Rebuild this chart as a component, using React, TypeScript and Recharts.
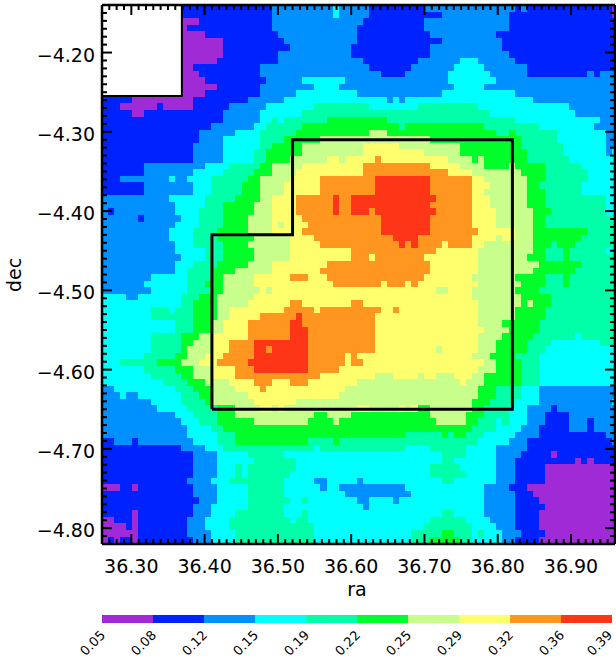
import React from "react";
import { ScatterChart, Scatter, XAxis, YAxis, BarChart, Bar, Label } from "recharts";

// Each row: runs of "<level letter><end column>"; w = no data
const rows: string[] = [
"w13 b28 c38 d39 c44 b53 c68 b69 c70 b84 a85",
"w13 b28 c38 d39 c44 b56 c67 b84 a85",
"w13 a16 b28 c43 b53 c67 b85",
"w13 a14 b28 c42 b53 c67 b85",
"w13 a17 b29 c42 b54 c65 b85",
"w13 a20 b30 c42 b56 c66 b85",
"w13 a20 b31 c41 b54 c66 b85",
"w13 a20 b29 c41 b54 c67 b85",
"w13 a19 b29 c43 b52 c59 d62 c68 b85",
"w13 a15 b26 c44 b51 c58 d63 c70 b85",
"w13 a16 b26 c46 b50 c57 d64 c70 b80 c81 b82 c85",
"w13 a17 b27 c33 d40 c57 d65 c85",
"w13 a19 b26 c35 d39 c58 d63 c85",
"w13 a17 b26 c32 d42 c56 d68 c85",
"b5 a15 b24 c30 d47 c48 d49 c50 d71 c85",
"b3 a9 b10 a15 b21 c27 d35 e44 d52 e62 d77 c85",
"b5 a7 b20 c26 d33 e64 d78 c85",
"b20 c26 d28 e29 d30 e37 f47 e68 d82 c85",
"b18 c25 d27 e33 f49 e50 f63 e72 d81 c85",
"b16 c22 d26 e32 f44 g47 f65 e67 f68 e75 d83 c85",
"b16 c20 d26 e30 f36 g54 f69 e75 d83 c85",
"b15 c20 d26 e28 f33 g43 h49 g59 f69 e76 d83 c85",
"b15 c20 d25 e27 f33 g43 h53 g59 f70 e76 d83 c84 d85",
"b15 c20 d25 e27 f31 g37 h39 g40 h45 i46 h57 g61 f62 g63 f70 e77 d85",
"b7 c17 d21 e26 f28 g33 h43 i54 h59 g63 f67 g68 f73 e79 d85",
"b7 c15 d20 e25 f28 g32 h43 i57 h61 g69 f73 e80 d85",
"b3 c11 d12 c14 d18 e24 f26 g31 h36 i45 j54 i61 h63 g70 f73 e80 d85",
"b7 c15 d18 e23 f26 g30 h36 i45 j54 i61 h64 g70 f72 e79 d85",
"b7 c15 d18 e23 f26 g30 h36 i45 j54 i61 h63 g70 f73 e79 d85",
"c11 d17 e22 f26 g28 h32 i38 j39 i41 j55 i61 h64 g70 f73 e83 d85",
"c12 d17 e20 f25 g28 h32 i38 j39 i41 j54 i61 h64 g70 f73 e83 d85",
"c1 b2 c12 d16 e20 f25 g28 h32 i38 j39 i41 j44 i45 j55 i61 h65 g71 f74 e83 d85",
"c6 b7 c13 d16 e20 f24 g28 h33 i46 j54 i61 h65 g71 f73 e85",
"c12 d16 e20 f24 g28 h29 g30 h34 i46 j54 i61 h65 g71 f73 e85",
"c11 d15 e19 f24 g28 h33 i46 j54 i62 h68 g71 f80 e85",
"c11 d15 e19 f25 g31 h35 i48 j52 i61 h65 g66 h68 g71 f79 e85",
"c12 d15 e20 f24 g31 h36 i49 j50 i51 j52 i56 h57 i61 h63 g71 f74 e75 f78 e85",
"c12 d17 e20 f25 g31 h41 i55 h62 g71 f73 e76 f77 e83 d84 e85",
"c13 d17 e20 f25 g31 h41 i44 h45 i53 h62 g70 f73 e76 f77 e85",
"c12 d15 e19 f24 g28 h37 i54 h62 g72 f79 e85",
"c12 d14 e18 f22 g28 h36 i54 h62 g71 f78 e85",
"c8 d14 e18 f20 g25 h31 i34 h37 i53 h61 g68 f73 e76 f77 e85",
"c7 d14 e17 f20 g25 h38 i46 h47 i50 h51 i52 h62 g69 f73 e76 f77 e85",
"c8 d14 e18 f20 g26 h27 g28 h55 g57 h61 g68 f72 e85",
"d4 c6 d13 e16 f19 g25 h61 g69 f74 e85",
"d13 e15 f19 g24 h31 i33 h41 i43 h62 g69 f70 g71 f74 e85",
"d8 e11 d12 e15 f19 g21 h30 i35 h36 i46 h48 i49 h62 g68 f73 e85",
"d8 e15 f19 g21 h26 i32 j33 i45 h62 g68 f73 e85",
"d12 e15 f18 g20 h24 i31 j33 i45 h62 g66 f72 e85",
"d12 e15 f18 g20 h24 i31 j34 i45 h63 g67 f72 e85",
"d8 e13 f16 g18 h24 i31 j34 i45 h62 g66 f71 e78 d79 e85",
"d8 e13 f15 g18 h21 i25 j34 i45 h62 g65 f70 e74 d82 e85",
"d8 e13 f14 g18 h21 i25 j27 i28 j34 i45 h55 g56 h62 g65 f70 e73 d85",
"d7 e12 f14 g17 h20 i25 j34 i40 h41 i42 h61 g64 f68 e72 d85",
"d3 e9 f13 g16 h19 i24 j34 i40 h41 i43 h63 g65 f69 e72 d85",
"d7 e12 f15 g18 h22 i25 j34 i39 h62 g65 f69 e72 d85",
"d8 e13 f15 g18 h22 i36 h45 g48 h52 g53 h55 g58 h61 g63 f69 e72 d85",
"d10 e14 f17 g21 h25 i28 h31 i34 h42 g59 h60 g63 f69 e72 d85",
"c2 d12 e15 f18 g22 h26 i27 h40 g62 f65 e69 d72 c85",
"c3 d4 c6 d13 e16 f18 g24 h39 g62 f65 e69 d72 c85",
"c8 d13 e17 f18 g25 h32 g61 f64 e68 d72 c84 d85",
"c9 d14 e19 f22 g26 h28 g29 h30 g42 h44 g49 h50 g51 h52 f54 g61 f63 e67 d70 c74 b75 c85",
"c12 d15 e19 f22 g35 f37 g41 f54 g60 f63 e67 d70 c73 b77 c85",
"c13 d16 e19 f25 g34 f38 g39 f55 g60 f62 e65 d66 e67 d70 c73 b77 c80 b81 c85",
"c14 d18 e20 f61 e65 d69 c72 b77 c80 b81 c85",
"c14 d19 e22 f50 e56 f57 e58 f60 e63 d68 c72 b83 c85",
"b2 c5 b6 c15 d19 e22 f34 e38 f39 e62 d67 c70 b84 c85",
"b13 c17 d20 e35 d36 e50 d54 e60 d65 c70 b85",
"b15 c19 d24 e30 d56 e60 d65 c69 b74 a75 b85",
"b15 c19 d25 e32 d56 e58 d65 c68 b78 a79 b80 a81 b85",
"b15 c19 d22 e23 d24 e32 d54 e59 d65 c68 b73 a85",
"b15 c19 d22 e23 d24 e31 d54 e60 d65 c68 b73 a85",
"b14 c18 d21 e30 d35 c37 d42 c43 d56 e58 d65 c68 b73 a85",
"a3 b5 a6 b15 c19 d24 e30 d36 c37 d39 c50 d63 c67 b70 a85",
"b15 c19 d24 e30 d40 c51 d63 c68 b71 a85",
"b16 c19 d24 e31 d33 e34 d42 c44 d48 c49 d63 c68 b72 a85",
"b15 c18 d24 e30 d43 c44 d63 c68 b73 a85",
"b5 a6 b15 c18 d22 e30 d33 e34 d56 e58 d63 c68 b72 a85",
"a2 b5 a6 b14 c17 d21 e31 d32 e34 d54 e60 d64 c68 b72 a85",
"a4 b5 a6 b14 c17 d21 e35 d53 e61 d65 c68 b72 a85",
"a6 b14 c18 d22 e35 d51 e56 f58 e61 d62 e63 d66 c69 b73 a85",
"a1 b2 a3 b5 a6 b15 c18 d22 e35 d51 e54 f59 e61 d66 c68 b72 a85",
];

const levelColors: Record<string, string> = {
  a: "#A02BD6", b: "#0022FF", c: "#0090FF", d: "#00FFFF", e: "#00FFA8",
  f: "#00FF2A", g: "#C8FF8C", h: "#FFFF6E", i: "#FF9620", j: "#FF3518",
};
const levelKeys = ["a", "b", "c", "d", "e", "f", "g", "h", "i", "j"];
const colorbarLabels = ["0.05", "0.08", "0.12", "0.15", "0.19", "0.22", "0.25", "0.29", "0.32", "0.36", "0.39"];

const raMajor = [36.3, 36.4, 36.5, 36.6, 36.7, 36.8, 36.9];
const decMajor = [-4.2, -4.3, -4.4, -4.5, -4.6, -4.7, -4.8];
const raDomain = [36.26, 36.96];
const decDomain = [-4.82, -4.14];
const STEP = 0.00828;

const footprint = [
  { ra: 36.41, dec: -4.65 }, { ra: 36.41, dec: -4.43 }, { ra: 36.52, dec: -4.43 },
  { ra: 36.52, dec: -4.31 }, { ra: 36.82, dec: -4.31 }, { ra: 36.82, dec: -4.65 }, { ra: 36.41, dec: -4.65 },
];
const maskEdge = [{ ra: 36.26, dec: -4.2548 }, { ra: 36.369, dec: -4.2548 }, { ra: 36.369, dec: -4.14 }];

const W = 616, PLOT_L = 102, PLOT_R = 615, PLOT_T = 5, PLOT_B = 544;
const CH = 610;
const FONT = "'DejaVu Sans', sans-serif";
const LABEL_SIZE = 19;
const cellW = (STEP * (PLOT_R - PLOT_L)) / (raDomain[1] - raDomain[0]);
const cellH = (STEP * (PLOT_B - PLOT_T)) / (decDomain[1] - decDomain[0]);

const cells: { ra: number; dec: number; level: string }[] = [];
rows.forEach((row, r) => {
  let col = 0;
  row.split(" ").forEach((run) => {
    const level = run[0];
    const end = parseInt(run.slice(1), 10);
    for (; col < end; col++) {
      if (level !== "w") {
        cells.push({ ra: raDomain[0] + (col + 0.5) * STEP, dec: decDomain[1] - (r + 0.5) * STEP, level });
      }
    }
  });
});

const hundredths = (lo: number, hi: number) => {
  const out: number[] = [];
  for (let i = Math.round(lo * 100); i <= Math.round(hi * 100); i++) out.push(i / 100);
  return out;
};
const isMajor = (v: number, majors: number[]) => majors.some((m) => Math.abs(m - v) < 1e-6);
const raMarks = hundredths(raDomain[0], raDomain[1]);
const decMarks = hundredths(decDomain[0], decDomain[1]);
const topMarks = raMarks.map((ra) => ({ ra, dec: decDomain[1], len: isMajor(ra, raMajor) ? 10 : 5 }));
const bottomMarks = raMarks.map((ra) => ({ ra, dec: decDomain[0], len: isMajor(ra, raMajor) ? 10 : 5 }));
const leftMarks = decMarks.map((dec) => ({ ra: raDomain[0], dec, len: isMajor(dec, decMajor) ? 10 : 5 }));
const rightMarks = decMarks.map((dec) => ({ ra: raDomain[1], dec, len: isMajor(dec, decMajor) ? 10 : 5 }));

const CellShape = (p: any) => (
  <rect
    x={p.cx - cellW / 2}
    y={p.cy - cellH / 2}
    width={cellW + 0.3}
    height={cellH + 0.3}
    fill={levelColors[p.payload.level]}
    shapeRendering="crispEdges"
  />
);
const NoPoint = () => <g />;
const markShape = (dx: number, dy: number) => (p: any) => (
  <line
    x1={p.cx}
    y1={p.cy}
    x2={p.cx + dx * p.payload.len}
    y2={p.cy + dy * p.payload.len}
    stroke="#000"
    strokeWidth={2}
  />
);
const TopMark = markShape(0, 1);
const BottomMark = markShape(0, -1);
const LeftMark = markShape(1, 0);
const RightMark = markShape(-1, 0);

const labelStyle = { fontFamily: FONT, fontSize: LABEL_SIZE, fill: "#000" };

const BottomTick = (p: any) => (
  <text x={p.x} y={573} textAnchor="middle" style={labelStyle}>
    {p.payload.value.toFixed(2)}
  </text>
);
const LeftTick = (p: any) => (
  <text x={95} y={p.y + 9} textAnchor="end" style={labelStyle}>
    {"\u2212" + Math.abs(p.payload.value).toFixed(2)}
  </text>
);

const colorbarRow = [{ name: "bar", a: 1, b: 1, c: 1, d: 1, e: 1, f: 1, g: 1, h: 1, i: 1, j: 1 }];
const ColorbarTick = (p: any) => {
  const x = Math.min(p.x + 4, 613);
  return (
    <text x={x} y={21} textAnchor="end" fontFamily={FONT} fontSize={13} fill="#000" transform={`rotate(-45 ${x} 21)`}>
      {colorbarLabels[p.payload.value]}
    </text>
  );
};

const margin = { top: PLOT_T, right: W - PLOT_R, bottom: CH - PLOT_B, left: PLOT_L };
const axisStroke = { stroke: "#000", strokeWidth: 2.5 };

export default function App() {
  return (
    <div style={{ position: "absolute", left: 0, top: 0, width: W, height: 659, background: "#fff", overflow: "hidden" }}>
      <div style={{ position: "absolute", left: 0, top: 0 }}>
        <ScatterChart width={W} height={CH} margin={margin}>
          <XAxis type="number" dataKey="ra" domain={raDomain} allowDataOverflow hide />
          <YAxis type="number" dataKey="dec" domain={decDomain} allowDataOverflow hide />
          <Scatter data={cells} dataKey="dec" shape={CellShape} isAnimationActive={false} />
        </ScatterChart>
      </div>
      <div style={{ position: "absolute", left: 0, top: 0 }}>
        <ScatterChart width={W} height={CH} margin={{ top: PLOT_T - 1, right: 0, bottom: 0, left: 0 }}>
          <XAxis type="number" dataKey="ra" domain={raDomain} allowDataOverflow ticks={raMajor} interval={0} height={CH - PLOT_B} tick={BottomTick} tickLine={false} axisLine={axisStroke}>
            <Label value="ra" content={() => (
              <text x={357} y={596} textAnchor="middle" style={labelStyle}>ra</text>
            )} />
          </XAxis>
          <XAxis xAxisId="top" orientation="top" type="number" domain={raDomain} allowDataOverflow height={1} tick={false} tickLine={false} axisLine={axisStroke} />
          <YAxis type="number" dataKey="dec" domain={decDomain} allowDataOverflow ticks={decMajor} interval={0} width={PLOT_L} tick={LeftTick} tickLine={false} axisLine={axisStroke}>
            <Label value="dec" content={() => (
              <text x={21} y={275} textAnchor="middle" style={labelStyle} transform="rotate(-90 21 275)">dec</text>
            )} />
          </YAxis>
          <YAxis yAxisId="right" orientation="right" type="number" domain={decDomain} allowDataOverflow width={1} tick={false} tickLine={false} axisLine={axisStroke} />
          <Scatter data={footprint} dataKey="dec" line={{ stroke: "#000", strokeWidth: 3 }} lineType="joint" shape={NoPoint} isAnimationActive={false} />
          <Scatter data={maskEdge} dataKey="dec" line={{ stroke: "#000", strokeWidth: 2 }} lineType="joint" shape={NoPoint} isAnimationActive={false} />
          <Scatter data={topMarks} dataKey="dec" shape={TopMark} isAnimationActive={false} />
          <Scatter data={bottomMarks} dataKey="dec" shape={BottomMark} isAnimationActive={false} />
          <Scatter data={leftMarks} dataKey="dec" shape={LeftMark} isAnimationActive={false} />
          <Scatter data={rightMarks} dataKey="dec" shape={RightMark} isAnimationActive={false} />
        </ScatterChart>
      </div>
      <div style={{ position: "absolute", left: 0, top: 615 }}>
        <BarChart width={W} height={44} layout="vertical" data={colorbarRow} barCategoryGap={0} margin={{ top: 0, right: 4, bottom: 0, left: PLOT_L }} style={{ overflow: "visible" }}>
          <XAxis type="number" domain={[0, 10]} ticks={[0, 1, 2, 3, 4, 5, 6, 7, 8, 9, 10]} interval={0} height={36} tick={ColorbarTick} tickLine={false} axisLine={false} />
          <YAxis type="category" dataKey="name" hide />
          {levelKeys.map((k) => (
            <Bar key={k} dataKey={k} stackId="cb" fill={levelColors[k]} isAnimationActive={false} />
          ))}
        </BarChart>
      </div>
    </div>
  );
}
